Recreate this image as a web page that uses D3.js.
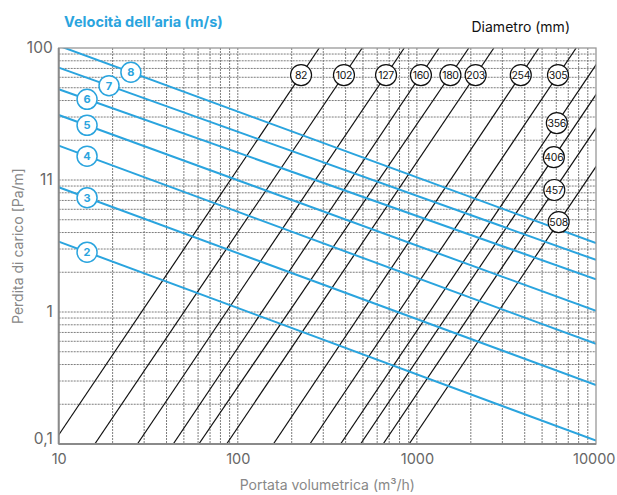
<!DOCTYPE html>
<html>
<head>
<meta charset="utf-8">
<script src="https://cdn.jsdelivr.net/npm/d3@7"></script>
<style>
  html, body { margin: 0; padding: 0; background: #fff; }
  svg { display: block; font-family: Inter, "Noto Sans", sans-serif; }
</style>
</head>
<body>
<svg id="chart" width="617" height="495"></svg>
<script>
// ---------- DATA ----------
const xTickValues = [10, 100, 1000, 10000];
const xTickLabels = ["10", "100", "1000", "10000"];
const yTickValues = [100, 10, 1, 0.1];
const yTickLabels = ["100", "11", "1", "0,1"];

// Air velocity lines (m/s): pressure drop at Q=10 and Q=10000 m3/h
const velocities   = [8, 7, 6, 5, 4, 3, 2];
const velDpAt10    = [104, 71.0, 48.7, 31.1, 18.2, 8.81, 3.41];
const velDpAt10000 = [3.33, 2.48, 1.77, 1.02, 0.573, 0.280, 0.106];
const velLabelQ    = [25.3, 19.1, 14.4, 14.4, 14.4, 14.4, 14.4];

// Duct diameter lines (mm): flow at dp=0.1 and dp=100 Pa/m
const diameters     = [82, 102, 127, 160, 180, 203, 254, 305, 356, 406, 457, 508];
const diaQAtDp01    = [9.25, 15.9, 27.5, 43.6, 60.6, 86.6, 158, 252.6, 374.8, 484.6, 647.7, 904.5];
const diaQAtDp100   = [285, 495, 850, 1330, 1950, 2690, 4800, 7750, 11580, 14970, 20010, 27950];
const diaLabelDp    = [62.4, 62.4, 62.4, 62.4, 62.4, 62.4, 62.4, 62.4, 27.0, 14.9, 8.4, 4.8];

// ---------- LAYOUT ----------
const svg = d3.select("#chart");
const L = 58.7, R = 596, T = 48, B = 444;
const x = d3.scaleLog().domain([10, 10000]).range([L, R]);
const y = d3.scaleLog().domain([0.1, 100]).range([B, T]);
const blue = "#2aa4de";

svg.append("defs").append("clipPath").attr("id", "plotclip")
  .append("rect").attr("x", L).attr("y", T).attr("width", R - L).attr("height", B - T);

// ---------- GRID ----------
const grid = svg.append("g");
const xGrid = [];
[10, 100, 1000].forEach(d => { for (let k = 2; k <= 10; k++) xGrid.push(d * k); });
const yGrid = [];
[0.1, 1, 10].forEach(d => { for (let k = 2; k <= 10; k++) yGrid.push(+(d * k).toPrecision(3)); });

grid.selectAll("line.vx").data(xGrid.filter(v => v < 10000)).join("line")
  .attr("x1", d => x(d)).attr("x2", d => x(d)).attr("y1", T).attr("y2", B)
  .attr("stroke", "#6e6e6e").attr("stroke-width", 0.9).attr("stroke-dasharray", "2,1");
grid.selectAll("line.hy").data(yGrid.filter(v => v < 100)).join("line")
  .attr("y1", d => y(d)).attr("y2", d => y(d)).attr("x1", L).attr("x2", R)
  .attr("stroke", "#6e6e6e").attr("stroke-width", 0.9).attr("stroke-dasharray", "2,1");

// ---------- DIAMETER LINES ----------
const plot = svg.append("g").attr("clip-path", "url(#plotclip)");
const diaData = diameters.map((d, i) => ({ d, q0: diaQAtDp01[i], q1: diaQAtDp100[i], ld: diaLabelDp[i] }));
function diaQ(o, dp) {
  const t = (Math.log10(dp) - Math.log10(0.1)) / 3;
  return Math.pow(10, Math.log10(o.q0) + t * (Math.log10(o.q1) - Math.log10(o.q0)));
}
plot.selectAll("line.dia").data(diaData).join("line")
  .attr("x1", o => x(o.q0)).attr("y1", y(0.1))
  .attr("x2", o => x(o.q1)).attr("y2", y(100))
  .attr("stroke", "#111").attr("stroke-width", 1.2);

// ---------- VELOCITY LINES ----------
const velData = velocities.map((v, i) => ({ v, a: velDpAt10[i], b: velDpAt10000[i], lq: velLabelQ[i] }));
function velDp(o, q) {
  const t = (Math.log10(q) - 1) / 3;
  return Math.pow(10, Math.log10(o.a) + t * (Math.log10(o.b) - Math.log10(o.a)));
}
plot.selectAll("line.vel").data(velData).join("line")
  .attr("x1", x(10)).attr("y1", o => y(o.a))
  .attr("x2", x(10000)).attr("y2", o => y(o.b))
  .attr("stroke", blue).attr("stroke-width", 2);

// ---------- FRAME ----------
svg.append("rect").attr("x", L).attr("y", T).attr("width", R - L).attr("height", B - T)
  .attr("fill", "none").attr("stroke", "#999").attr("stroke-width", 1.3);
svg.append("line").attr("x1", L).attr("x2", L).attr("y1", T).attr("y2", B)
  .attr("stroke", "#8a8a8a").attr("stroke-width", 2);
svg.append("line").attr("x1", L).attr("x2", R).attr("y1", B).attr("y2", B)
  .attr("stroke", "#8a8a8a").attr("stroke-width", 2);

// ---------- LABELS ON LINES ----------
const vl = svg.append("g").selectAll("g").data(velData).join("g")
  .attr("transform", o => `translate(${x(o.lq)},${y(velDp(o, o.lq))})`);
vl.append("circle").attr("r", 10).attr("fill", "#fff").attr("stroke", blue).attr("stroke-width", 1.5);
vl.append("text").text(o => o.v).attr("text-anchor", "middle").attr("dy", "0.36em")
  .attr("fill", blue).attr("font-size", 11).attr("font-weight", 700);

const dl = svg.append("g").selectAll("g").data(diaData).join("g")
  .attr("transform", o => `translate(${x(diaQ(o, o.ld))},${y(o.ld)})`);
dl.append("circle").attr("r", 10.5).attr("fill", "#fff").attr("stroke", "#111").attr("stroke-width", 1.2);
dl.append("text").text(o => o.d).attr("text-anchor", "middle").attr("dy", "0.36em")
  .attr("fill", "#111").attr("font-size", 10.5).attr("letter-spacing", "-0.3");

// ---------- AXES ----------
const xAxis = d3.axisBottom(x).tickValues(xTickValues)
  .tickFormat((d, i) => xTickLabels[i]).tickSize(0).tickPadding(10);
const gx = svg.append("g").attr("transform", `translate(0,${B})`).call(xAxis);
gx.select(".domain").remove();
gx.selectAll("text").attr("fill", "#666").attr("font-size", 14.5)
  .attr("font-family", "Inter, 'Noto Sans', sans-serif");
gx.selectAll("text").filter(d => d === 10000).attr("text-anchor", "end").attr("x", 19);

const yAxis = d3.axisLeft(y).tickValues(yTickValues)
  .tickFormat((d, i) => yTickLabels[i]).tickSize(0).tickPadding(6);
const gy = svg.append("g").attr("transform", `translate(${L},0)`).call(yAxis);
gy.select(".domain").remove();
gy.selectAll("text").attr("fill", "#666").attr("font-size", 15.5)
  .attr("font-family", "Inter, 'Noto Sans', sans-serif")
  .attr("dy", d => d === 0.1 ? "-0.05em" : "0.32em");

// ---------- TITLES ----------
svg.append("text").attr("x", 64).attr("y", 27).text("Velocità dell’aria (m/s)")
  .attr("fill", blue).attr("font-size", 14.5).attr("font-weight", 700);
svg.append("text").attr("x", 570).attr("y", 32).attr("text-anchor", "end").text("Diametro (mm)")
  .attr("fill", "#111").attr("font-size", 14);
svg.append("text").attr("x", (L + R) / 2).attr("y", 490).attr("text-anchor", "middle")
  .text("Portata volumetrica (m³/h)").attr("fill", "#888").attr("font-size", 14);
svg.append("text").attr("transform", `translate(23,${(T + B) / 2}) rotate(-90)`)
  .attr("text-anchor", "middle").text("Perdita di carico [Pa/m]")
  .attr("fill", "#888").attr("font-size", 14);
</script>
</body>
</html>
